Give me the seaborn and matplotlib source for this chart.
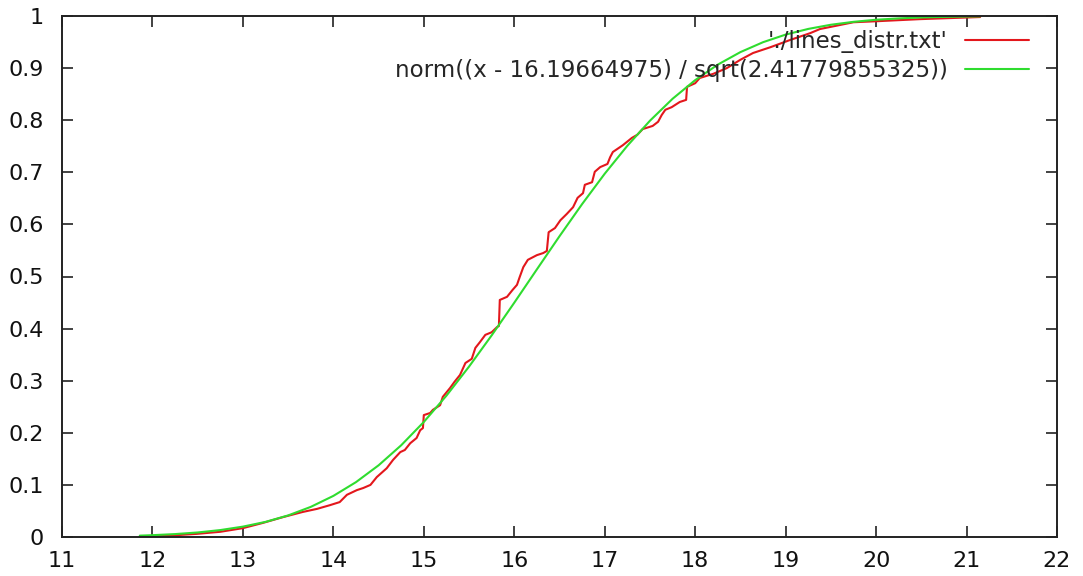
import numpy as np
import pandas as pd
import matplotlib
matplotlib.use("Agg")
import matplotlib.pyplot as plt
import seaborn as sns

data_x = [11.86, 12.12, 12.49, 12.75, 13.00, 13.22, 13.44, 13.66, 13.82, 13.96,
          14.07, 14.15, 14.26, 14.33, 14.41, 14.48, 14.59, 14.66, 14.74, 14.79,
          14.85, 14.92, 14.96, 14.99, 15.00, 15.07, 15.10, 15.18, 15.21, 15.29,
          15.34, 15.40, 15.46, 15.53, 15.57, 15.62, 15.68, 15.75, 15.81, 15.83,
          15.84, 15.92, 15.98, 16.03, 16.06, 16.10, 16.15, 16.25, 16.32, 16.36,
          16.38, 16.45, 16.51, 16.58, 16.65, 16.70, 16.76, 16.78, 16.86, 16.89,
          16.95, 17.03, 17.06, 17.09, 17.20, 17.30, 17.36, 17.42, 17.53, 17.59,
          17.63, 17.67, 17.74, 17.83, 17.90, 17.91, 18.00, 18.05, 18.20, 18.35,
          18.50, 18.64, 18.83, 19.05, 19.27, 19.38, 19.75, 20.01, 20.49, 20.82,
          21.15]
data_y = [0.001, 0.002, 0.006, 0.010, 0.017, 0.027, 0.038, 0.048, 0.054, 0.061,
          0.067, 0.081, 0.090, 0.094, 0.100, 0.115, 0.132, 0.148, 0.163, 0.167,
          0.180, 0.190, 0.205, 0.209, 0.234, 0.238, 0.244, 0.253, 0.269, 0.286,
          0.298, 0.311, 0.334, 0.342, 0.363, 0.374, 0.388, 0.393, 0.403, 0.405,
          0.455, 0.461, 0.474, 0.484, 0.499, 0.518, 0.532, 0.541, 0.545, 0.549,
          0.585, 0.593, 0.608, 0.620, 0.633, 0.651, 0.660, 0.676, 0.681, 0.701,
          0.710, 0.716, 0.729, 0.739, 0.752, 0.766, 0.772, 0.783, 0.789, 0.797,
          0.810, 0.820, 0.825, 0.835, 0.839, 0.864, 0.871, 0.881, 0.889, 0.900,
          0.916, 0.929, 0.940, 0.954, 0.967, 0.975, 0.988, 0.990, 0.994, 0.996,
          0.998]

# Fitted normal CDF curve
fit_x = [11.86, 12.00, 12.25, 12.50, 12.75, 13.00, 13.25, 13.50, 13.75, 14.00,
         14.25, 14.50, 14.75, 15.00, 15.25, 15.50, 15.75, 16.00, 16.25, 16.50,
         16.75, 17.00, 17.25, 17.50, 17.75, 18.00, 18.25, 18.50, 18.75, 19.00,
         19.25, 19.50, 19.75, 20.00, 20.25, 20.50, 20.75, 21.00, 21.15]
fit_y = [0.0026, 0.0035, 0.0056, 0.0087, 0.0133, 0.0199, 0.0290, 0.0414, 0.0578, 0.0789,
         0.1053, 0.1376, 0.1761, 0.2208, 0.2713, 0.3271, 0.3870, 0.4497, 0.5137, 0.5773,
         0.6390, 0.6973, 0.7509, 0.7990, 0.8411, 0.8769, 0.9067, 0.9307, 0.9497, 0.9643,
         0.9752, 0.9832, 0.9888, 0.9928, 0.9954, 0.9972, 0.9983, 0.9990, 0.9993]

series_labels = ["'./lines_distr.txt'", "norm((x - 16.19664975) / sqrt(2.41779855325))"]
x_ticks = [11, 12, 13, 14, 15, 16, 17, 18, 19, 20, 21, 22]
y_ticks = [0, 0.1, 0.2, 0.3, 0.4, 0.5, 0.6, 0.7, 0.8, 0.9, 1]
y_tick_labels = ["0", "0.1", "0.2", "0.3", "0.4", "0.5", "0.6", "0.7", "0.8", "0.9", "1"]

sns.set_theme(style="white")
plt.rcParams["font.family"] = ["DejaVu Sans"]

df_data = pd.DataFrame({"x": data_x, "y": data_y})
df_fit = pd.DataFrame({"x": fit_x, "y": fit_y})

fig = plt.figure(figsize=(10.83, 5.76), dpi=100)
ax = fig.add_axes([62 / 1083, 39 / 576, (1057 - 62) / 1083, (537 - 16) / 576])

sns.lineplot(data=df_data, x="x", y="y", ax=ax, color="#e3171c", linewidth=1.5,
             sort=False, estimator=None, label=series_labels[0])
sns.lineplot(data=df_fit, x="x", y="y", ax=ax, color="#2fdc2f", linewidth=1.5,
             sort=False, estimator=None, label=series_labels[1])

ax.set_xlim(11, 22)
ax.set_ylim(0, 1)
ax.set_xticks(x_ticks)
ax.set_xticklabels([str(t) for t in x_ticks])
ax.set_yticks(y_ticks)
ax.set_yticklabels(y_tick_labels)
ax.set_xlabel("")
ax.set_ylabel("")

ax.tick_params(axis="both", which="major", direction="in", length=8, width=1.2,
               color="#222222", labelsize=16, labelcolor="#111111",
               top=True, right=True, bottom=True, left=True)
ax.tick_params(axis="x", pad=10)
ax.tick_params(axis="y", pad=13)
for sp in ax.spines.values():
    sp.set_visible(True)
    sp.set_color("#222222")
    sp.set_linewidth(1.4)

leg = ax.legend(loc="upper right", frameon=False, markerfirst=False, fontsize=16.5,
                handlelength=2.8, handletextpad=0.75, labelspacing=0.25,
                borderaxespad=0.3, bbox_to_anchor=(0.988, 1.003))
for t in leg.get_texts():
    t.set_ha("right")
leg._legend_box.align = "right"

fig.savefig("out.png", dpi=100, facecolor="white")
